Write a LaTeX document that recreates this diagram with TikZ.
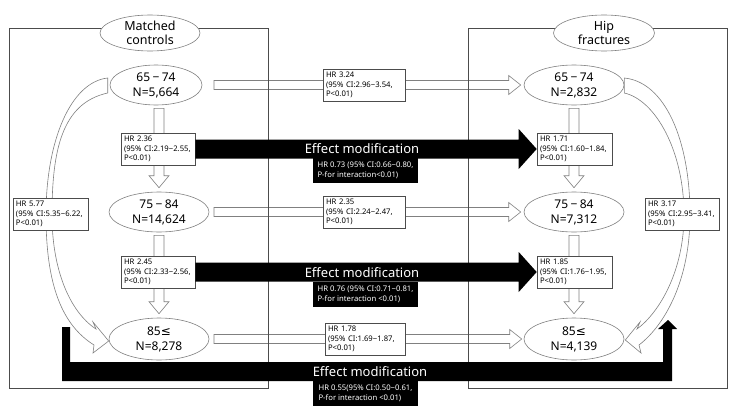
\documentclass[tikz,border=0pt]{standalone}
\usepackage{fontspec}
\setmainfont{Noto Sans}
\newfontfamily\symfont{DejaVu Sans}
\usetikzlibrary{shapes.geometric,calc}

% block arrow: [style]{from}{to}{half shaft}{half head}{head length}
\newcommand{\blockarrow}[6][]{%
  \coordinate (ba) at (#2);
  \coordinate (bb) at (#3);
  \coordinate (bh) at ($(bb)!#6!(ba)$);
  \draw[#1] ($(ba)!#4!90:(bb)$) -- ($(bh)!#4!90:(bb)$) -- ($(bh)!#5!90:(bb)$)
    -- (bb) -- ($(bh)!#5!-90:(bb)$) -- ($(bh)!#4!-90:(bb)$)
    -- ($(ba)!#4!-90:(bb)$) -- cycle;}

\begin{document}
\begin{tikzpicture}[x=1pt, y=-1pt,
    panel/.style={draw=gray!60!black, line width=0.6pt},
    group/.style={ellipse, draw=gray, fill=white, line width=0.6pt,
      minimum width=100pt, minimum height=36pt, inner sep=0pt,
      align=center, font=\fontsize{12.5}{13.5}\selectfont},
    age/.style={ellipse, draw=gray, fill=white, line width=0.6pt,
      minimum width=100pt, minimum height=40pt, inner sep=0pt,
      align=center, font=\fontsize{12}{15}\selectfont},
    hr/.style={draw=gray!60!black, fill=white, line width=0.6pt,
      inner sep=3pt, text width=#1, align=left,
      font=\fontsize{7.7}{9.5}\selectfont},
    hr/.default=68pt,
    white arrow/.style={fill=white, draw=gray, line width=0.6pt},
    black arrow/.style={fill=black, draw=none},
    effect/.style={text=white, inner sep=0pt,
      font=\fontsize{13}{15}\selectfont},
    ebox/.style={fill=black, text=white, align=left, inner sep=4pt,
      minimum width=105pt, font=\fontsize{7.7}{9.5}\selectfont}]
  \useasboundingbox (0,0) rectangle (736,415);

  % Age groups
  \node[age, minimum width=92pt] (lA) at (156,85) {65\hspace{0.2em}−\hspace{0.2em}74\\N=5,664};
  \node[age] (lB) at (159,212) {75\hspace{0.2em}−\hspace{0.2em}84\\N=14,624};
  \node[age, minimum height=42pt] (lC) at (159,339) {85{\symfont ≤}\\N=8,278};
  \node[age] (rA) at (574,85) {65\hspace{0.2em}−\hspace{0.2em}74\\N=2,832};
  \node[age] (rB) at (574,212) {75\hspace{0.2em}−\hspace{0.2em}84\\N=7,312};
  \node[age, minimum height=42pt] (rC) at (574,339) {85{\symfont ≤}\\N=4,139};

  % White arrows
  \coordinate (hs) at (214,0);
  \blockarrow[white arrow]{hs |- lA}{$(rA.west)+(-3,0)$}{4.5pt}{9.5pt}{12pt}
  \blockarrow[white arrow]{hs |- lB}{$(rB.west)+(-3,0)$}{4.5pt}{9.5pt}{12pt}
  \blockarrow[white arrow]{hs |- lC}{$(rC.west)+(-2,0)$}{4.5pt}{9.5pt}{12pt}
  \blockarrow[white arrow]{$(lB |- lA.south)+(0,3)$}{$(lB.north)+(0,-4)$}{5pt}{10pt}{12pt}
  \blockarrow[white arrow]{$(lB.south)+(0,3)$}{$(lC.north)+(0,-4)$}{5pt}{10pt}{12pt}
  \blockarrow[white arrow]{$(rA.south)+(0,3)$}{$(rB.north)+(0,-4)$}{5pt}{10pt}{12pt}
  \blockarrow[white arrow]{$(rB.south)+(0,3)$}{$(rC.north)+(0,-4)$}{5pt}{10pt}{12pt}

  % Curved arrows
  \draw[white arrow] ($(lA.west)+(-2,-7)$) .. controls (71,82) and (46,140) .. (46,215)
    .. controls (46,285) and (62,325) .. (94,345) -- (93,353) -- ($(lC.west)+(0,2)$)
    -- (93,322) -- (96,329) .. controls (70,312) and (52,270) .. (52,215)
    .. controls (52,150) and (62,103) .. ($(lA.west)+(-2,8)$) -- cycle;
  \draw[white arrow] ($(rA.east)+(0,-7)$) .. controls (665,82) and (690,140) .. (690,215)
    .. controls (690,280) and (665,325) .. (639,345) -- (641,353) -- ($(rC.east)+(1,1)$)
    -- (640,322) -- (637,329) .. controls (660,312) and (684,270) .. (684,215)
    .. controls (684,150) and (655,100) .. ($(rA.east)+(0,8)$) -- cycle;

  % Panels
  \draw[panel] (9,28) rectangle (268,388);
  \draw[panel] (468,28) rectangle (727,388);

  % Hazard ratios
  \node[hr=76pt] (hA) at (364,85) {HR 3.24\\(95\% CI:2.96−3.54,\\P<0.01)};
  \node[hr=76pt] (hB) at (364,212) {HR 2.35\\(95\% CI:2.24−2.47,\\P<0.01)};
  \node[hr=74pt] (hC) at (365,339) {HR 1.78\\(95\% CI:1.69−1.87,\\P<0.01)};
  \node[hr] (lAB) at (158,149) {HR 2.36\\(95\% CI:2.19−2.55,\\P<0.01)};
  \node[hr] (lBC) at (158,272) {HR 2.45\\(95\% CI:2.33−2.56,\\P<0.01)};
  \node[hr=69pt] (rAB) at (574.5,149) {HR 1.71\\(95\% CI:1.60−1.84,\\P<0.01)};
  \node[hr=69pt] (rBC) at (574.5,272) {HR 1.85\\(95\% CI:1.76−1.95,\\P<0.01)};
  \node[hr=69pt] (lAC) at (50.5,214) {HR 5.77\\(95\% CI:5.35−6.22,\\P<0.01)};
  \node[hr] (rAC) at (682,214) {HR 3.17\\(95\% CI:2.95−3.41,\\P<0.01)};

  % Effect modification
  \blockarrow[black arrow]{lAB.east}{rAB.west}{9.5pt}{20pt}{18pt}
  \blockarrow[black arrow]{lBC.east}{rBC.west}{9.5pt}{20pt}{18pt}
  \fill (62,327) -- (70,327) -- (70,362) -- (663,362) -- (663,329) -- (658,329)
    -- (668,320) -- (677,329) -- (672,329) -- (672,381) -- (62,381) -- cycle;
  \node[effect] (e1) at (362,149) {Effect modification};
  \node[ebox, anchor=north] (i1) at (365.5,158) {HR 0.73 (95\% CI:0.66−0.80,\\P-for interaction<0.01)};
  \node[effect] (e2) at (362,273) {Effect modification};
  \node[ebox, anchor=north] (i2) at (365.5,282) {HR 0.76 (95\% CI:0.71−0.81,\\P-for interaction <0.01)};
  \node[effect] (e3) at (370,372) {Effect modification};
  \node[ebox, anchor=north] (i3) at (365.5,381) {HR 0.55(95\% CI:0.50−0.61,\\P-for interaction <0.01)};

  % Groups
  \node[group] (mc) at (150,33) {Matched\\controls};
  \node[group, minimum width=101pt] (hf) at (604,33) {Hip\\fractures};
\end{tikzpicture}
\end{document}
